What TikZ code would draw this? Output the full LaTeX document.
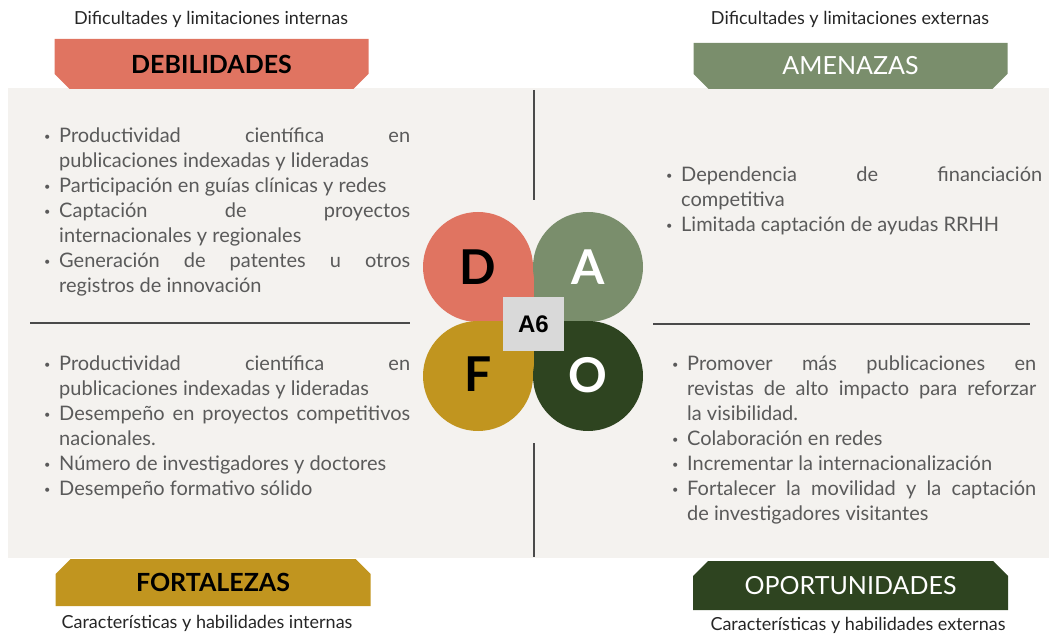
\documentclass[tikz,border=0pt]{standalone}
\usepackage{fontspec}
\setmainfont{Lato}
\newfontfamily\boxfont{Liberation Sans}
\usetikzlibrary{shapes.misc}
\definecolor{debcol}{HTML}{E07461}
\definecolor{amecol}{HTML}{7A8E6C}
\definecolor{forcol}{HTML}{C1951F}
\definecolor{opocol}{HTML}{2E4420}
\definecolor{panelcol}{HTML}{F4F2EF}
\definecolor{boxcol}{HTML}{D9D9D9}
\definecolor{bodycol}{HTML}{5A5A5A}
\definecolor{subcol}{HTML}{262626}
\definecolor{rulecol}{HTML}{4A4A4A}
\newcommand{\itm}[1]{\par\noindent\hangindent=15pt\hangafter=1\hyphenpenalty=10000\makebox[15pt][l]{\raisebox{2pt}{\fontsize{11}{11}\selectfont\textbullet}}#1}
\begin{document}
\begin{tikzpicture}[x=1pt,y=1pt,
    bannerup/.style={chamfered rectangle,chamfered rectangle corners={south west,south east},
      chamfered rectangle xsep=14pt,chamfered rectangle ysep=6pt,inner sep=0pt,
      minimum width=314pt,font=\fontsize{25}{25}\selectfont},
    bannerdown/.style={chamfered rectangle,chamfered rectangle corners={north west,north east},
      chamfered rectangle xsep=9pt,chamfered rectangle ysep=6pt,inner sep=0pt,
      minimum width=315pt,font=\fontsize{25}{25}\selectfont},
    subtitle/.style={anchor=base,text=subcol,font=\fontsize{18}{18}\selectfont},
    body/.style={anchor=north west,inner sep=0pt,align=justify,text=bodycol,
      font=\fontsize{20}{25}\selectfont},
    letter/.style={font=\fontsize{48}{48}\selectfont\bfseries},
    divider/.style={rulecol,line width=1.5pt}]
    \useasboundingbox (0,0) rectangle (1049,635);
    \fill[panelcol] (8,77) rectangle (1049,547);
    \node[bannerup,fill=debcol,minimum height=50pt] (deb) at (211.5,571) {\bfseries DEBILIDADES};
    \node[bannerup,fill=amecol,minimum height=46pt,text=white] (ame) at (850.5,569) {AMENAZAS};
    \node[bannerdown,fill=forcol,minimum height=47pt] (fort) at (213,52.5) {\bfseries FORTALEZAS};
    \node[bannerdown,fill=opocol,minimum height=49pt,text=white] (opo) at (850.5,49.5) {OPORTUNIDADES};
    \node[subtitle] (debsub) at (211,610) {Dificultades y limitaciones internas};
    \node[subtitle] (amesub) at (850,610) {Dificultades y limitaciones externas};
    \node[subtitle] (fortsub) at (207,7) {Características y habilidades internas};
    \node[subtitle] (oposub) at (858,5) {Características y habilidades externas};
    \draw[divider] (534,545) -- (534,435);
    \draw[divider] (534,192) -- (534,78);
    \draw[divider] (30,312) -- (410,312);
    \draw[divider] (653,311) -- (1030,311);
    \fill[debcol] (478,368) circle (55);
    \fill[debcol] (478,313.5) rectangle (533.5,368);
    \fill[amecol] (588,368) circle (55);
    \fill[amecol] (533.5,313.5) rectangle (588,368);
    \fill[forcol] (478,259) circle (55);
    \fill[forcol] (478,259) rectangle (533.5,313.5);
    \fill[opocol] (588,259) circle (55);
    \fill[opocol] (533.5,259) rectangle (588,313.5);
    \node[letter] (d) at (478,368) {D};
    \node[letter,text=white] (a) at (588,368) {A};
    \node[letter] (f) at (478,261) {F};
    \node[letter,text=white] (o) at (588,260) {O};
    \node[fill=boxcol,minimum width=61pt,minimum height=54pt,inner sep=0pt,
      font=\boxfont\bfseries\fontsize{24}{24}\selectfont] (a6) at (533.5,311) {A6};
    \node[body,text width=366pt] (debtxt) at (44,518) {%
      \itm{Productividad científica en\linebreak publicaciones indexadas y lideradas}
      \itm{Participación en guías clínicas y redes}
      \itm{Captación de proyectos\linebreak internacionales y regionales}
      \itm{Generación de patentes u otros\linebreak registros de innovación}\par};
    \node[body,text width=376pt] (ametxt) at (666,479) {%
      \itm{Dependencia de financiación\linebreak competitiva}
      \itm{Limitada captación de ayudas RRHH}\par};
    \node[body,text width=366pt] (forttxt) at (44,290) {%
      \itm{Productividad científica en\linebreak publicaciones indexadas y lideradas}
      \itm{Desempeño en proyectos competitivos\linebreak nacionales.}
      \itm{Número de investigadores y doctores}
      \itm{Desempeño formativo sólido}\par};
    \node[body,text width=364pt] (opotxt) at (672,290) {%
      \itm{Promover más publicaciones en\linebreak revistas de alto impacto para reforzar\linebreak la visibilidad.}
      \itm{Colaboración en redes}
      \itm{Incrementar la internacionalización}
      \itm{Fortalecer la movilidad y la captación\linebreak de investigadores visitantes}\par};
\end{tikzpicture}
\end{document}
